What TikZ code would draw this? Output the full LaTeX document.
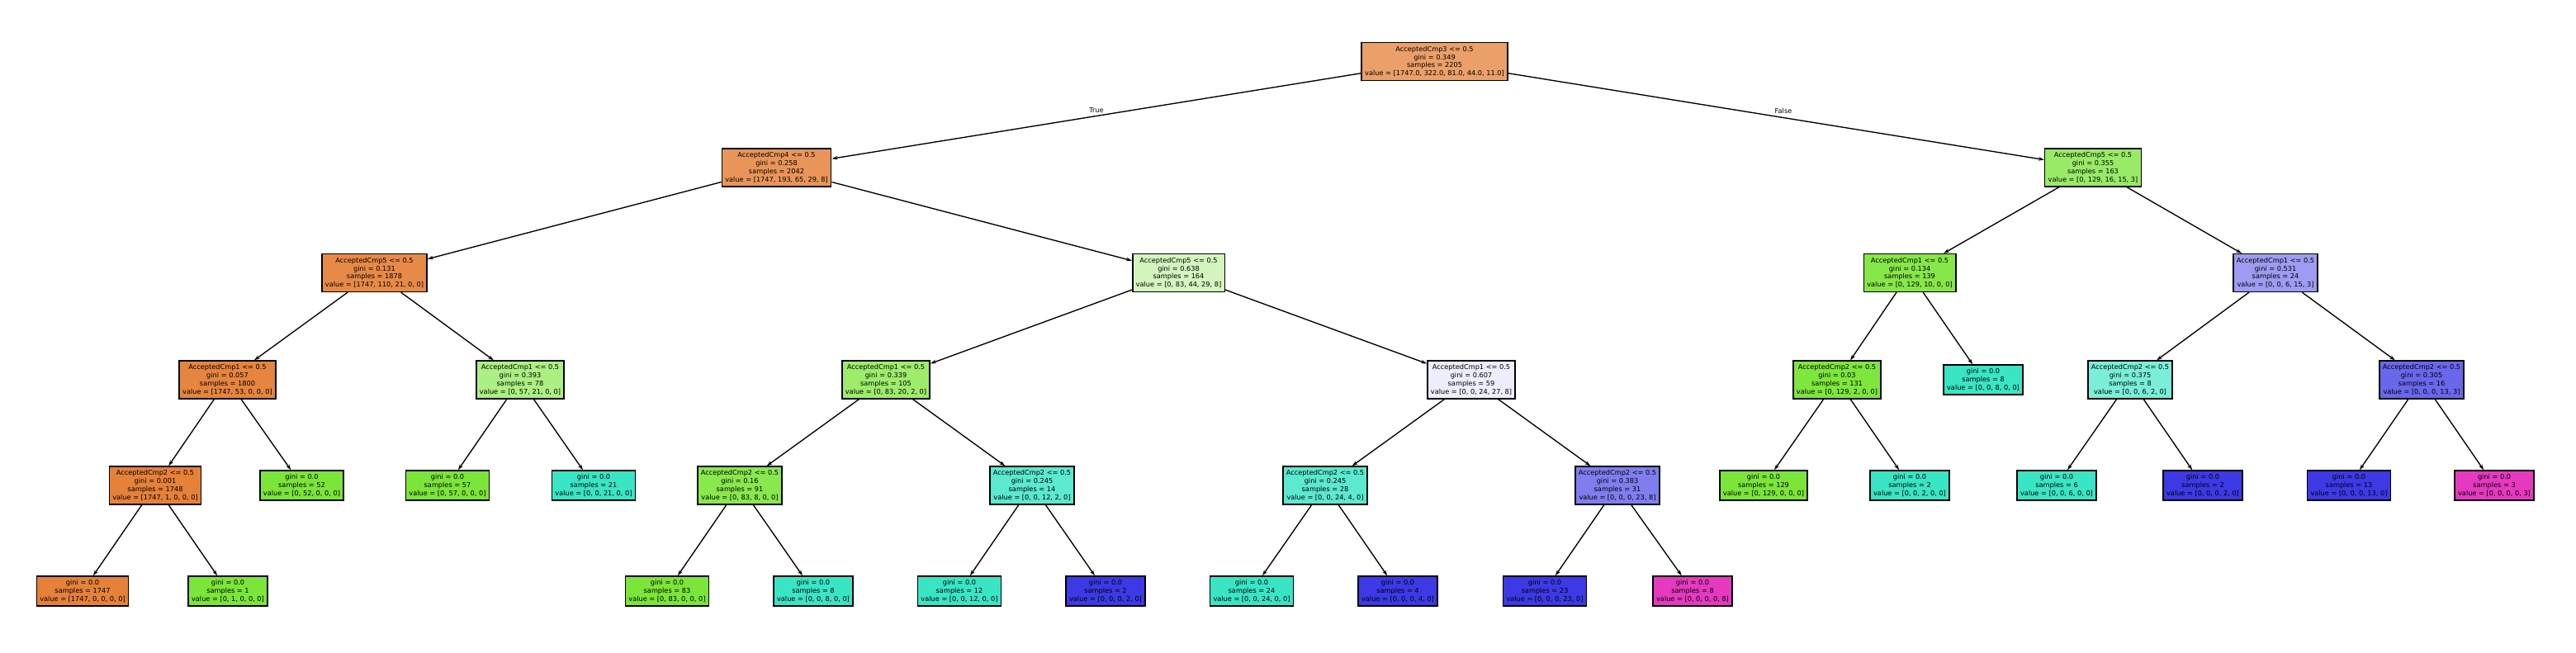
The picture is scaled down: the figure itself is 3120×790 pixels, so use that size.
\documentclass[tikz,border=0pt]{standalone}
\usepackage{fontspec}
\setmainfont{DejaVu Sans}
\usepackage{xcolor}
\usetikzlibrary{arrows.meta}

\definecolor{cls0}{HTML}{E58139}
\definecolor{cls1}{HTML}{7BE539}
\definecolor{cls2}{HTML}{39E5C5}
\definecolor{cls3}{HTML}{3C39E5}
\definecolor{cls4}{HTML}{E539C0}

\begin{document}
\begin{tikzpicture}[
    x=1pt, y=-1pt,
    box/.style={draw, line width=1.5pt, align=center, font=\fontsize{8.2}{9.8}\selectfont, inner xsep=4pt, inner ysep=4.5pt},
    edgelabel/.style={font=\fontsize{8.2}{9.8}\selectfont},
    arrow/.style={-{Stealth[length=7pt, width=4.5pt]}, line width=1.35pt}
]
    \useasboundingbox (0,0) rectangle (3120,790);

    % Depth 0
    \node[box, fill=cls0!76!white] (t) at (1737.5, 74.5) {AcceptedCmp3 <= 0.5\\gini = 0.349\\samples = 2205\\value = [1747.0, 322.0, 81.0, 44.0, 11.0]};

    % Depth 1
    \node[box, fill=cls0!84!white] (tl) at (940.5, 203) {AcceptedCmp4 <= 0.5\\gini = 0.258\\samples = 2042\\value = [1747, 193, 65, 29, 8]};
    \node[box, fill=cls1!77!white] (tr) at (2535, 203) {AcceptedCmp5 <= 0.5\\gini = 0.355\\samples = 163\\value = [0, 129, 16, 15, 3]};

    % Depth 2
    \node[box, fill=cls0!93!white] (tll) at (453.5, 330.5) {AcceptedCmp5 <= 0.5\\gini = 0.131\\samples = 1878\\value = [1747, 110, 21, 0, 0]};
    \node[box, fill=cls1!33!white] (tlr) at (1427.5, 330.5) {AcceptedCmp5 <= 0.5\\gini = 0.638\\samples = 164\\value = [0, 83, 44, 29, 8]};
    \node[box, fill=cls1!92!white] (trl) at (2313, 330.5) {AcceptedCmp1 <= 0.5\\gini = 0.134\\samples = 139\\value = [0, 129, 10, 0, 0]};
    \node[box, fill=cls3!50!white] (trr) at (2756, 330.5) {AcceptedCmp1 <= 0.5\\gini = 0.531\\samples = 24\\value = [0, 0, 6, 15, 3]};

    % Depth 3
    \node[box, fill=cls0!97!white] (tlll) at (275.5, 460) {AcceptedCmp1 <= 0.5\\gini = 0.057\\samples = 1800\\value = [1747, 53, 0, 0, 0]};
    \node[box, fill=cls1!63!white] (tllr) at (630, 460) {AcceptedCmp1 <= 0.5\\gini = 0.393\\samples = 78\\value = [0, 57, 21, 0, 0]};
    \node[box, fill=cls1!74!white] (tlrl) at (1073, 460) {AcceptedCmp1 <= 0.5\\gini = 0.339\\samples = 105\\value = [0, 83, 20, 2, 0]};
    \node[box, fill=cls3!9!white] (tlrr) at (1782, 460) {AcceptedCmp1 <= 0.5\\gini = 0.607\\samples = 59\\value = [0, 0, 24, 27, 8]};
    \node[box, fill=cls1!98!white] (trll) at (2225, 460) {AcceptedCmp2 <= 0.5\\gini = 0.03\\samples = 131\\value = [0, 129, 2, 0, 0]};
    \node[box, fill=cls2] (trlr) at (2402, 460) {gini = 0.0\\samples = 8\\value = [0, 0, 8, 0, 0]};
    \node[box, fill=cls2!67!white] (trrl) at (2580, 460) {AcceptedCmp2 <= 0.5\\gini = 0.375\\samples = 8\\value = [0, 0, 6, 2, 0]};
    \node[box, fill=cls3!77!white] (trrr) at (2933, 460) {AcceptedCmp2 <= 0.5\\gini = 0.305\\samples = 16\\value = [0, 0, 0, 13, 3]};

    % Depth 4
    \node[box, fill=cls0] (tllll) at (188, 588) {AcceptedCmp2 <= 0.5\\gini = 0.001\\samples = 1748\\value = [1747, 1, 0, 0, 0]};
    \node[box, fill=cls1] (tlllr) at (365.5, 588) {gini = 0.0\\samples = 52\\value = [0, 52, 0, 0, 0]};
    \node[box, fill=cls1] (tllrl) at (542, 588) {gini = 0.0\\samples = 57\\value = [0, 57, 0, 0, 0]};
    \node[box, fill=cls2] (tllrr) at (719, 588) {gini = 0.0\\samples = 21\\value = [0, 0, 21, 0, 0]};
    \node[box, fill=cls1!90!white] (tlrll) at (896, 588) {AcceptedCmp2 <= 0.5\\gini = 0.16\\samples = 91\\value = [0, 83, 8, 0, 0]};
    \node[box, fill=cls2!83!white] (tlrlr) at (1250, 588) {AcceptedCmp2 <= 0.5\\gini = 0.245\\samples = 14\\value = [0, 0, 12, 2, 0]};
    \node[box, fill=cls2!83!white] (tlrrl) at (1605, 588) {AcceptedCmp2 <= 0.5\\gini = 0.245\\samples = 28\\value = [0, 0, 24, 4, 0]};
    \node[box, fill=cls3!65!white] (tlrrr) at (1959, 588) {AcceptedCmp2 <= 0.5\\gini = 0.383\\samples = 31\\value = [0, 0, 0, 23, 8]};
    \node[box, fill=cls1] (trlll) at (2136, 588) {gini = 0.0\\samples = 129\\value = [0, 129, 0, 0, 0]};
    \node[box, fill=cls2] (trllr) at (2313, 588) {gini = 0.0\\samples = 2\\value = [0, 0, 2, 0, 0]};
    \node[box, fill=cls2] (trrll) at (2491, 588) {gini = 0.0\\samples = 6\\value = [0, 0, 6, 0, 0]};
    \node[box, fill=cls3] (trrlr) at (2668, 588) {gini = 0.0\\samples = 2\\value = [0, 0, 0, 2, 0]};
    \node[box, fill=cls3] (trrrl) at (2845, 588) {gini = 0.0\\samples = 13\\value = [0, 0, 0, 13, 0]};
    \node[box, fill=cls4] (trrrr) at (3021, 588) {gini = 0.0\\samples = 3\\value = [0, 0, 0, 0, 3]};

    % Depth 5
    \node[box, fill=cls0] (tlllll) at (100, 716) {gini = 0.0\\samples = 1747\\value = [1747, 0, 0, 0, 0]};
    \node[box, fill=cls1] (tllllr) at (276, 716) {gini = 0.0\\samples = 1\\value = [0, 1, 0, 0, 0]};
    \node[box, fill=cls1] (tlrlll) at (808, 716) {gini = 0.0\\samples = 83\\value = [0, 83, 0, 0, 0]};
    \node[box, fill=cls2] (tlrllr) at (985, 716) {gini = 0.0\\samples = 8\\value = [0, 0, 8, 0, 0]};
    \node[box, fill=cls2] (tlrlrl) at (1162, 716) {gini = 0.0\\samples = 12\\value = [0, 0, 12, 0, 0]};
    \node[box, fill=cls3] (tlrlrr) at (1339, 716) {gini = 0.0\\samples = 2\\value = [0, 0, 0, 2, 0]};
    \node[box, fill=cls2] (tlrrll) at (1516, 716) {gini = 0.0\\samples = 24\\value = [0, 0, 24, 0, 0]};
    \node[box, fill=cls3] (tlrrlr) at (1693, 716) {gini = 0.0\\samples = 4\\value = [0, 0, 0, 4, 0]};
    \node[box, fill=cls3] (tlrrrl) at (1871, 716) {gini = 0.0\\samples = 23\\value = [0, 0, 0, 23, 0]};
    \node[box, fill=cls4] (tlrrrr) at (2050, 716) {gini = 0.0\\samples = 8\\value = [0, 0, 0, 0, 8]};

    % Edges
    \foreach \a/\b in {t/tl, t/tr, tl/tll, tl/tlr, tr/trl, tr/trr,
        tll/tlll, tll/tllr, tlr/tlrl, tlr/tlrr, trl/trll, trl/trlr, trr/trrl, trr/trrr,
        tlll/tllll, tlll/tlllr, tllr/tllrl, tllr/tllrr, tlrl/tlrll, tlrl/tlrlr, tlrr/tlrrl, tlrr/tlrrr,
        trll/trlll, trll/trllr, trrl/trrll, trrl/trrlr, trrr/trrrl, trrr/trrrr,
        tllll/tlllll, tllll/tllllr, tlrll/tlrlll, tlrll/tlrllr, tlrlr/tlrlrl, tlrlr/tlrlrr,
        tlrrl/tlrrll, tlrrl/tlrrlr, tlrrr/tlrrrl, tlrrr/tlrrrr} {
        \draw[arrow] (\a) -- (\b);
    }

    % Split labels
    \node[edgelabel] (truelbl) at (1328, 134) {True};
    \node[edgelabel] (falselbl) at (2160, 134) {False};
\end{tikzpicture}
\end{document}
